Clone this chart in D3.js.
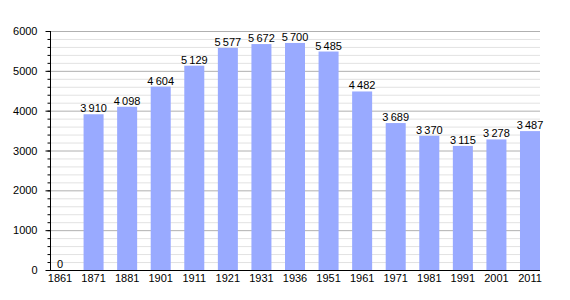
<!DOCTYPE html>
<html>
<head>
<meta charset="utf-8">
<script src="https://cdn.jsdelivr.net/npm/d3@7"></script>
<style>
  body { margin: 0; background: #fff; }
  text { font-family: "Liberation Sans", Arial, sans-serif; }
</style>
</head>
<body>
<div id="chart"></div>
<script>
// data
const years = ["1861","1871","1881","1901","1911","1921","1931","1936","1951","1961","1971","1981","1991","2001","2011"];
const population = [0,3910,4098,4604,5129,5577,5672,5700,5485,4482,3689,3370,3115,3278,3487];
const yTicks = [0,1000,2000,3000,4000,5000,6000];

const width = 570, height = 300;
const plot = {left: 50, right: 540, top: 31, bottom: 270};

const svg = d3.select("#chart")
    .append("svg")
    .attr("width", width)
    .attr("height", height);

const xScale = d3.scaleBand()
    .domain(years)
    .range([plot.left, plot.right])
    .paddingInner(0.404)
    .paddingOuter(0);

const yScale = d3.scaleLinear()
    .domain([0, 6000])
    .range([plot.bottom, plot.top]);

const fmt = d3.formatLocale({decimal: ",", thousands: "\u2009", grouping: [3], currency: ["", ""]}).format(",d");

// minor grid lines every 200
svg.append("g")
    .selectAll("line")
    .data(d3.range(200, 6000, 200).filter(v => v % 1000 !== 0))
    .join("line")
    .attr("x1", plot.left).attr("x2", plot.right)
    .attr("y1", d => yScale(d) + 0.5).attr("y2", d => yScale(d) + 0.5)
    .attr("stroke", "#e2e2e2");

// major grid lines
svg.append("g")
    .selectAll("line")
    .data(yTicks.filter(v => v > 0))
    .join("line")
    .attr("x1", plot.left).attr("x2", plot.right)
    .attr("y1", d => yScale(d) + 0.5).attr("y2", d => yScale(d) + 0.5)
    .attr("stroke", "#b0b0b0");

// bars
svg.append("g")
    .selectAll("rect")
    .data(years.map((y, i) => ({year: y, value: population[i]})))
    .join("rect")
    .attr("x", d => xScale(d.year))
    .attr("y", d => yScale(d.value))
    .attr("width", xScale.bandwidth())
    .attr("height", d => yScale(0) - yScale(d.value))
    .attr("fill", "#99aaff");

// value labels
svg.append("g")
    .selectAll("text")
    .data(years.map((y, i) => ({year: y, value: population[i]})))
    .join("text")
    .attr("x", d => xScale(d.year) + xScale.bandwidth() / 2)
    .attr("y", d => yScale(d.value) - 2)
    .attr("text-anchor", "middle")
    .attr("font-size", "11px")
    .attr("fill", "#000")
    .text(d => fmt(d.value));

// y axis, minor ticks
const yMinor = svg.append("g")
    .attr("transform", `translate(${plot.left + 0.5},0)`)
    .call(d3.axisLeft(yScale).tickValues(d3.range(0, 6001, 200)).tickSize(3).tickFormat(""));
yMinor.select(".domain").remove();

// y axis, major
const yAxis = svg.append("g")
    .attr("transform", `translate(${plot.left + 0.5},0)`)
    .call(d3.axisLeft(yScale).tickValues(yTicks).tickSize(5).tickPadding(8).tickFormat(d3.format("d")));
yAxis.select(".domain").attr("d", `M0,${plot.top}V${plot.bottom}`);
yAxis.selectAll("text").attr("font-size", "11px").attr("font-family", "Liberation Sans, Arial, sans-serif");

// x axis
const xAxis = svg.append("g")
    .attr("transform", `translate(0,${plot.bottom + 0.5})`)
    .call(d3.axisBottom(xScale).tickSize(0).tickPadding(4));
xAxis.select(".domain").attr("d", `M${plot.left},0H${plot.right}`);
xAxis.selectAll("text").attr("font-size", "11px").attr("font-family", "Liberation Sans, Arial, sans-serif");
</script>
</body>
</html>
